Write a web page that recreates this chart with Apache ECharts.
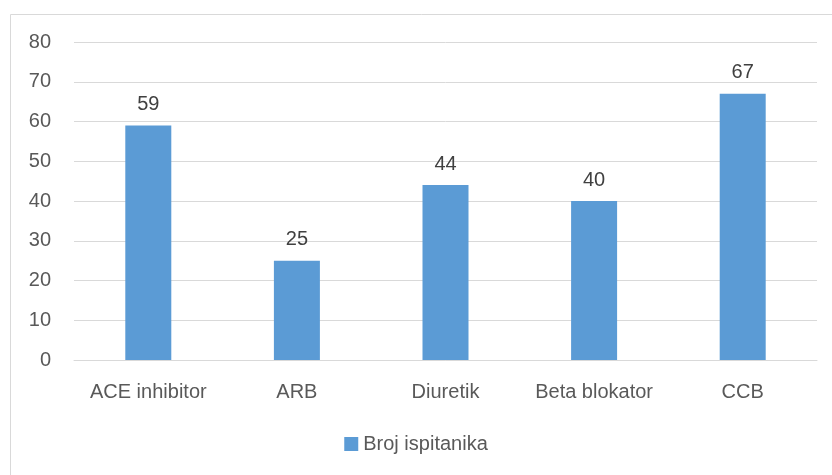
<!DOCTYPE html>
<html>
<head>
<meta charset="utf-8">
<script src="https://cdn.jsdelivr.net/npm/echarts@6/dist/echarts.min.js"></script>
<style>
  html, body { margin: 0; padding: 0; background: #fff; }
  #chart { width: 832px; height: 475px; }
</style>
</head>
<body>
<div id="chart"></div>
<script>
// podaci sa slike
var categories = ['ACE inhibitor', 'ARB', 'Diuretik', 'Beta blokator', 'CCB'];
var seriesName = 'Broj ispitanika';
var values = [59, 25, 44, 40, 67];
var yMin = 0, yMax = 80, yStep = 10;

var chart = echarts.init(document.getElementById('chart'));
var font = '"Liberation Sans", Arial, sans-serif';

var option = {
    animation: false,
    textStyle: { fontFamily: font },
    graphic: [{
        type: 'rect',
        shape: { x: 10.5, y: 14.5, width: 840, height: 480 },
        style: { fill: 'none', stroke: '#d9d9d9', lineWidth: 1 }
    }],
    legend: {
        data: [seriesName],
        bottom: 16,
        left: 'center',
        icon: 'rect',
        itemWidth: 14,
        itemHeight: 14,
        itemGap: 6,
        textStyle: { fontSize: 20, color: '#595959', fontFamily: font }
    },
    grid: {
        left: 74,
        right: 15,
        top: 42,
        bottom: 115
    },
    xAxis: {
        type: 'category',
        data: categories,
        axisTick: { show: false },
        axisLine: { lineStyle: { color: '#d9d9d9', width: 1 } },
        axisLabel: { color: '#595959', fontSize: 20, margin: 22, interval: 0, fontFamily: font }
    },
    yAxis: {
        type: 'value',
        min: yMin,
        max: yMax,
        interval: yStep,
        axisLine: { show: false },
        axisTick: { show: false },
        splitLine: { lineStyle: { color: '#d9d9d9', width: 1 } },
        axisLabel: { color: '#595959', fontSize: 20, margin: 23, fontFamily: font }
    },
    series: [{
        name: seriesName,
        type: 'bar',
        data: values,
        barWidth: 46,
        itemStyle: { color: '#5b9bd5' },
        label: {
            show: true,
            position: 'top',
            distance: 11,
            color: '#404040',
            fontSize: 20,
            fontFamily: font
        }
    }]
};
chart.setOption(option);
</script>
</body>
</html>
